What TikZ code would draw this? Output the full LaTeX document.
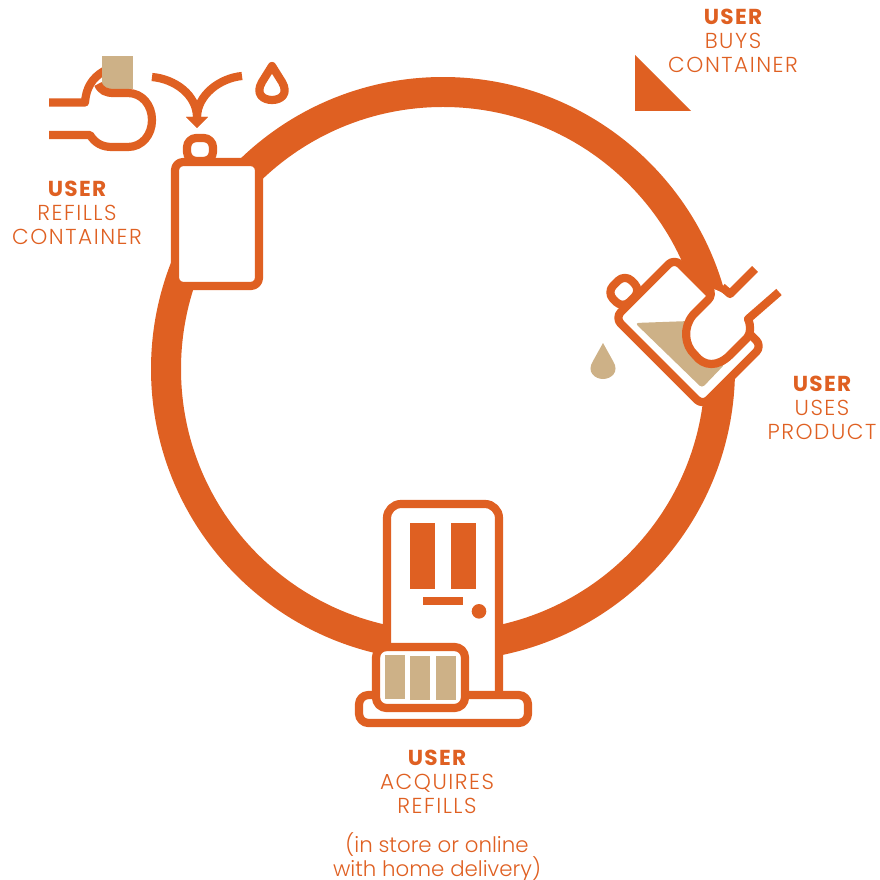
\documentclass[tikz,border=0pt]{standalone}
\usepackage{fontspec}
\setmainfont{Poppins Light}
\newfontfamily\capsfont{Poppins Light}[LetterSpace=7]
\newfontfamily\headfont{Poppins Bold}[LetterSpace=6]
\usepackage{xcolor}
\usetikzlibrary{arrows.meta,positioning,calc}
\definecolor{rust}{HTML}{DF6022}
\definecolor{sand}{HTML}{CDB187}
\tikzset{
  iconline/.style={draw=rust,line width=7pt,line join=round},
  caption/.style={rust,inner sep=0pt,align=center,font=\fontsize{18.5}{20.5}\selectfont\capsfont},
  smallcaption/.style={rust,inner sep=0pt,align=center,font=\fontsize{18.2}{20.5}\selectfont},
  bottle/.pic={
    \draw[iconline,fill=white,rounded corners=8] (-30,-63) rectangle (-4,-86);
    \draw[iconline,fill=white,rounded corners=7] (-42,-62) rectangle (42,62);
  }
}
\newcommand{\who}{{\headfont USER}}
\begin{document}
\begin{tikzpicture}[x=0.03cm,y=-0.03cm]
  \useasboundingbox (0,0) rectangle (879,880);
  % ring
  \draw[rust,line width=25.6pt] (443,369) circle[radius=277];
  % refill
  \draw[iconline] (49,102.5)--(85,102.5) .. controls (86,88) and (92,78) .. (104,71);
  \fill[sand] (102,56) rectangle (133,89);
  \draw[iconline] (98,84) .. controls (101,91) and (106,93) .. (114,93)--(128,93)
    .. controls (142,93) and (152,105) .. (152,120) .. controls (152,135) and (142,147) .. (128,147)
    --(112,147) .. controls (102,147) and (95,143) .. (90,135)--(49,135);
  \coordinate (tip) at (197,128);
  \draw[iconline,-{Triangle[width=18pt,length=9.5pt]}] (152,77) .. controls (175,79) and (197,95) .. (tip);
  \draw[iconline,-{Triangle[width=18pt,length=9.5pt]}] (242,76) .. controls (220,78) and (197,95) .. (tip);
  \draw[iconline] (272,66)--(262,82) .. controls (255,94) and (263,100) .. (272,100)
    .. controls (281,100) and (289,94) .. (282,82)--cycle;
  \pic at (217,224) {bottle};
  % pour
  \fill[sand] (603,343)--(593,361) .. controls (586,372) and (595,379) .. (603,379)
    .. controls (611,379) and (620,372) .. (613,361)--cycle;
  \pic[rotate=45] at (688.5,332) {bottle};
  \fill[sand,rounded corners=3] (635,323)--(690,321)--(725,364)--(702,388)--cycle;
  \fill[white] (710,288) .. controls (718,290) and (725,294) .. (730,298)--(748,319)--(751,337)
    --(730,355) .. controls (718,367) and (704,367) .. (695,355) .. controls (684,345) and (683,327) .. (693,315)
    --(708,300)--cycle;
  \draw[iconline] (709,287) .. controls (712,293) and (711,297) .. (708,300)--(693,315)
    .. controls (683,327) and (684,345) .. (695,355) .. controls (704,367) and (718,367) .. (730,355)
    --(747,338) .. controls (751,333) and (751,326) .. (748,319)--(779,292);
  \draw[iconline] (722,287)--(730,294)--(755,269);
  % door
  \draw[iconline,fill=white,rounded corners=12] (387,695)--(387,504)--(499,504)--(499,695);
  \fill[rust] (410,523) rectangle (435,589);
  \fill[rust] (451,523) rectangle (476,589);
  \fill[rust] (423,597) rectangle (463,605);
  \fill[rust] (479,611.3) circle[radius=7.3];
  \draw[iconline,fill=white,rounded corners=8] (359,695) rectangle (528,723);
  \draw[iconline,fill=white,rounded corners=9] (376,647) rectangle (465,708);
  \fill[sand] (385,655) rectangle (405,699);
  \fill[sand] (410,656) rectangle (430,700);
  \fill[sand] (436,656) rectangle (456,700);
  % buy
  \fill[rust] (635,55)--(635,111)--(691,111)--cycle;
  % labels
  \node[caption] (buys) at (733,41) {\who\\BUYS\\CONTAINER};
  \node[caption] (refills) at (77,213) {\who\\REFILLS\\CONTAINER};
  \node[caption] (uses) at (822,408) {\who\\USES\\PRODUCT};
  \node[caption] (acquires) at (437,782) {\who\\ACQUIRES\\REFILLS};
  \node[smallcaption] (delivery) at (437,857) {(in store or online\\with home delivery)};
\end{tikzpicture}
\end{document}
